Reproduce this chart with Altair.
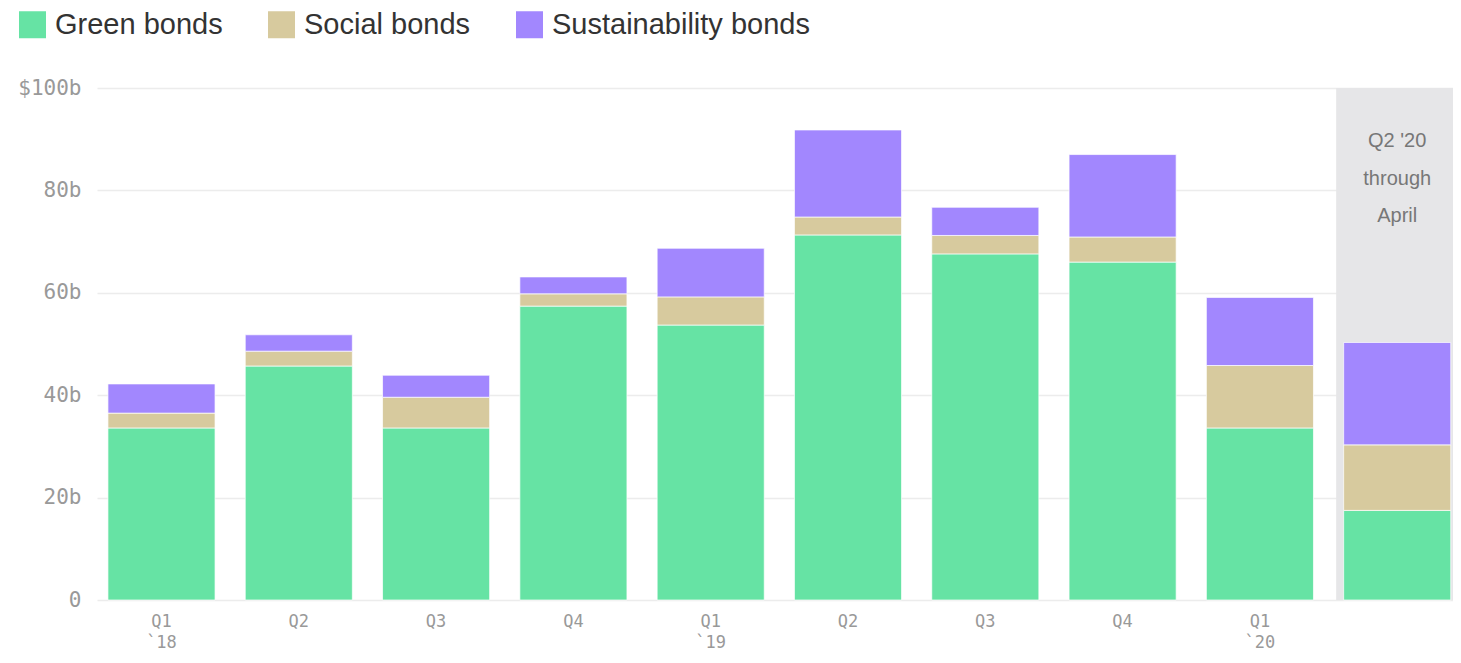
import altair as alt
import pandas as pd

categories = ["Q1 2018", "Q2 2018", "Q3 2018", "Q4 2018", "Q1 2019",
              "Q2 2019", "Q3 2019", "Q4 2019", "Q1 2020", "Q2 2020"]
tick_labels = [["Q1", "`18"], ["Q2"], ["Q3"], ["Q4"], ["Q1", "`19"],
               ["Q2"], ["Q3"], ["Q4"], ["Q1", "`20"], [""]]
series = ["Green bonds", "Social bonds", "Sustainability bonds"]
green = [33.6, 45.7, 33.6, 57.4, 53.7, 71.3, 67.6, 66.0, 33.6, 17.5]
social = [2.9, 2.9, 6.0, 2.4, 5.5, 3.5, 3.6, 4.9, 12.2, 12.8]
sustain = [5.7, 3.2, 4.3, 3.3, 9.5, 17.0, 5.5, 16.1, 13.3, 20.0]
colors = ["#66E3A4", "#D7CA9E", "#A287FE"]
y_ticks = [0, 20, 40, 60, 80, 100]
highlight_cat = "Q2 2020"
note = "Q2 '20\nthrough\nApril"

rows = []
for i, c in enumerate(categories):
    for k, (s, vals) in enumerate(zip(series, [green, social, sustain])):
        rows.append({"cat": c, "series": s, "value": vals[i], "order": k})
df = pd.DataFrame(rows)

hl = pd.DataFrame({"cat": [highlight_cat], "lo": [y_ticks[0]], "hi": [y_ticks[-1]], "text": [note]})

label_arr = "[" + ",".join("[" + ",".join("'" + t + "'" for t in lab) + "]" for lab in tick_labels) + "]"
cat_arr = "[" + ",".join("'" + c + "'" for c in categories) + "]"
label_expr = f"{label_arr}[indexof({cat_arr}, datum.value)]"

xscale = alt.Scale(domain=categories, paddingInner=0.22, paddingOuter=0.048, align=0.83)
yscale = alt.Scale(domain=[0, 100], nice=False)

xaxis = alt.Axis(title=None, labelExpr=label_expr, labelAngle=0, ticks=False, domain=False,
                 labelFont="DejaVu Sans Mono", labelFontSize=17, labelColor="#999999",
                 labelPadding=13, labelLineHeight=21, labelAlign="center")
yaxis = alt.Axis(title=None, values=y_ticks, ticks=False, domain=False,
                 labelExpr="datum.value == 100 ? '$100b' : (datum.value == 0 ? '0' : datum.value + 'b')",
                 labelFont="DejaVu Sans Mono", labelFontSize=21, labelColor="#999999",
                 labelPadding=16, gridColor="#ececec", gridWidth=1.5)

band = alt.Chart(hl).mark_bar(color="#e6e6e8", width=alt.RelativeBandSize(1.14)).encode(
    x=alt.X("cat:N", scale=xscale, axis=xaxis, sort=categories),
    y=alt.Y("hi:Q", scale=yscale, axis=yaxis),
    y2="lo:Q",
)

bars = alt.Chart(df).mark_bar(stroke="white", strokeWidth=1, strokeOpacity=0.7).encode(
    x=alt.X("cat:N", scale=xscale, sort=categories),
    y=alt.Y("value:Q", stack="zero", scale=yscale),
    color=alt.Color("series:N", scale=alt.Scale(domain=series, range=colors),
                    legend=alt.Legend(title=None, orient="none", legendX=-79, legendY=-78,
                                      direction="horizontal", symbolType="square",
                                      symbolSize=729, symbolStrokeWidth=0, symbolOpacity=1,
                                      labelFont="Liberation Sans", labelFontSize=29,
                                      labelColor="#333333", labelOffset=8,
                                      columnPadding=44, labelLimit=400)),
    order=alt.Order("order:Q"),
)

text = alt.Chart(hl).mark_text(font="Liberation Sans", fontSize=20, color="#777777",
                               lineBreak="\n", lineHeight=37.5, baseline="middle",
                               align="center").encode(
    x=alt.X("cat:N", scale=xscale, sort=categories),
    y=alt.value(53),
    text="text:N",
)

chart = alt.layer(band, bars, text).properties(
    width=1356, height=512,
    autosize=alt.AutoSizeParams(type="none"),
    padding={"left": 89, "top": 80, "right": 0, "bottom": 53},
).configure_view(stroke=None)

chart.save("out.html", embed_options={"renderer": "svg", "actions": False})
